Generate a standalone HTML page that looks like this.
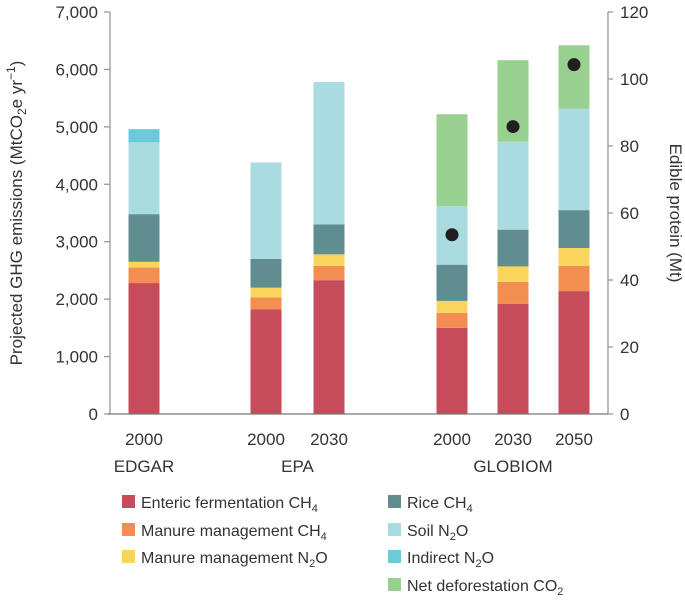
<!DOCTYPE html>
<html><head><meta charset="utf-8"><style>
body{margin:0;background:#fff;}
svg text{font-family:"Liberation Sans",sans-serif;fill:#333;}
</style></head><body>
<svg id="c" width="685" height="602" xmlns="http://www.w3.org/2000/svg"></svg>
<script>
const categories = ["2000","2000","2030","2000","2030","2050"];
const groups = ["EDGAR","EPA","GLOBIOM"];
const seriesNames = ["Enteric fermentation CH4","Manure management CH4","Manure management N2O","Rice CH4","Soil N2O","Indirect N2O","Net deforestation CO2"];
const enteric = [2280,1820,2330,1500,1920,2140];
const manureCH4 = [270,210,250,260,380,440];
const manureN2O = [100,170,200,210,270,310];
const rice = [830,500,520,630,640,660];
const soil = [1250,1680,2480,1020,1530,1770];
const indirect = [230,0,0,0,0,0];
const deforestation = [0,0,0,1600,1420,1100];
const protein = [null,null,null,53.5,85.8,104.3];
const leftTicks = [0,1000,2000,3000,4000,5000,6000,7000];
const rightTicks = [0,20,40,60,80,100,120];
</script>
<script>
const svg=document.getElementById('c');
const NS='http://www.w3.org/2000/svg';
function mk(t,a,p){const e=document.createElementNS(NS,t);for(const k in a)e.setAttribute(k,a[k]);(p||svg).appendChild(e);return e;}
const y0=414, yTop=12;
const yL=v=>y0-(v/7000)*(y0-yTop);
const yR=v=>y0-(v/120)*(y0-yTop);
const centers=[144,266,329,452,513,574];
const bw=31;
const colors=["#c64b5b","#f28e4f","#fbd55b","#5f8d90","#a9dbe0","#6ccadb","#98d08f"];
const series=[enteric,manureCH4,manureN2O,rice,soil,indirect,deforestation];
// axes
let e=mk('line',{x1:110,y1:yTop,x2:110,y2:y0,stroke:'#999','stroke-width':1.3});

e=mk('line',{x1:608,y1:yTop,x2:608,y2:y0,stroke:'#999','stroke-width':1.3});

leftTicks.forEach(v=>{
  const y=yL(v);
  mk('line',{x1:104,y1:y,x2:110,y2:y,stroke:'#999','stroke-width':1.3});
  const t=mk('text',{x:98,y:y+6,'text-anchor':'end','font-size':17});
  t.textContent=v.toLocaleString('en-US');
  
  
});
rightTicks.forEach(v=>{
  const y=yR(v);
  mk('line',{x1:608,y1:y,x2:613,y2:y,stroke:'#999','stroke-width':1.3});
  const t=mk('text',{x:620,y:y+6,'font-size':17});
  t.textContent=v;
  
  
});
// bars
categories.forEach((c,i)=>{
  let cum=0;
  series.forEach((s,j)=>{
    const v=s[i]; if(!v) return;
    const r=mk('rect',{x:centers[i]-bw/2,y:yL(cum+v),width:bw,height:yL(cum)-yL(cum+v),fill:colors[j]});
    
    
    cum+=v;
  });
  const t=mk('text',{x:centers[i],y:445,'text-anchor':'middle','font-size':17});
  t.textContent=c;
  
  
  if(protein[i]!=null){
    const d=mk('circle',{cx:centers[i],cy:yR(protein[i]),r:6.5,fill:'#231f20'});
    
    
  }
});
e=mk('line',{x1:108,y1:y0,x2:608,y2:y0,stroke:'#777','stroke-width':1.3});

const gx=[144,297.5,513];
groups.forEach((g,i)=>{
  const t=mk('text',{x:gx[i],y:472,'text-anchor':'middle','font-size':17});
  t.textContent=g;
  
  
});
// axis titles
e=mk('text',{transform:'translate(22,213) rotate(-90)','text-anchor':'middle','font-size':17});
e.innerHTML='Projected GHG emissions (MtCO<tspan font-size="12" dy="4">2</tspan><tspan dy="-4">e yr</tspan><tspan font-size="12" dy="-7">−1</tspan><tspan dy="7">)</tspan>';

e=mk('text',{transform:'translate(670,213) rotate(90)','text-anchor':'middle','font-size':17});
e.textContent='Edible protein (Mt)';

// legend
const legend=[
 [122,502,'Enteric fermentation CH','4',0],[122,530,'Manure management CH','4',1],[122,557,'Manure management N','2','O',2],
 [388,502,'Rice CH','4',3],[388,530,'Soil N','2','O',4],[388,557,'Indirect N','2','O',5],[388,585,'Net deforestation CO','2',6]];
legend.forEach(l=>{
  const ci=l[l.length-1];
  const g=mk('g',{});
  
  
  mk('rect',{x:l[0],y:l[1]-7,width:13,height:13,fill:colors[ci]},g);
  const t=mk('text',{x:l[0]+19,y:l[1]+6,'font-size':16},g);
  let h=l[2]+'<tspan font-size="11" dy="4">'+l[3]+'</tspan>';
  if(l.length===6) h+='<tspan dy="-4">'+l[4]+'</tspan>';
  t.innerHTML=h;
});
</script>
</body></html>
